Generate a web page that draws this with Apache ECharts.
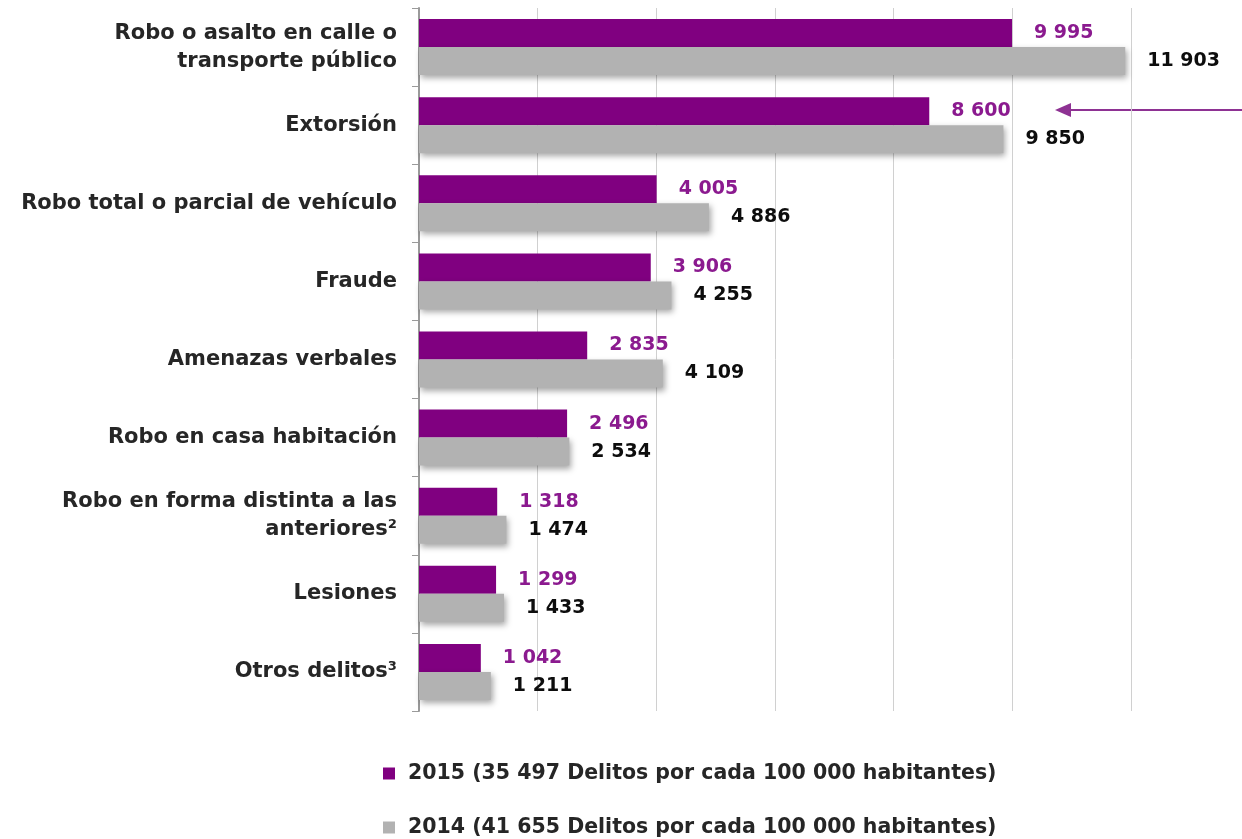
<!DOCTYPE html>
<html>
<head>
<meta charset="utf-8">
<script src="https://cdn.jsdelivr.net/npm/echarts@6/dist/echarts.min.js"></script>
<style>
  html, body { margin: 0; padding: 0; background: #fff; }
  #chart { width: 1242px; height: 839px; }
</style>
</head>
<body>
<div id="chart"></div>
<script>
// categorías (de arriba hacia abajo)
var categories = [
  'Robo o asalto en calle o\ntransporte público',
  'Extorsión',
  'Robo total o parcial de vehículo',
  'Fraude',
  'Amenazas verbales',
  'Robo en casa habitación',
  'Robo en forma distinta a las\nanteriores²',
  'Lesiones',
  'Otros delitos³'
];
// nombres de la leyenda
var seriesNames = [
  '2015 (35 497 Delitos por cada 100 000 habitantes)',
  '2014 (41 655 Delitos por cada 100 000 habitantes)'
];
// datos 2015 y 2014
var data2015 = [9995, 8600, 4005, 3906, 2835, 2496, 1318, 1299, 1042];
var data2014 = [11903, 9850, 4886, 4255, 4109, 2534, 1474, 1433, 1211];

// separador de miles con espacio
function fmt(v) {
  return String(v).replace(/\B(?=(\d{3})+(?!\d))/g, ' ');
}

var myChart = echarts.init(document.getElementById('chart'));
var font = '"DejaVu Sans", sans-serif';
var legendText = {
  color: '#262626',
  fontSize: 20.5,
  fontWeight: 'bold',
  fontFamily: font,
  padding: [0, 0, 0, 8]
};
var option = {
  animation: false,
  textStyle: { fontFamily: font },
  // una leyenda por fila
  legend: [
    {
      left: 378,
      top: 758,
      itemWidth: 12,
      itemHeight: 12,
      icon: 'rect',
      textStyle: legendText,
      data: [seriesNames[0]]
    },
    {
      left: 378,
      top: 812,
      itemWidth: 12,
      itemHeight: 12,
      icon: 'rect',
      textStyle: legendText,
      data: [seriesNames[1]]
    }
  ],
  grid: {
    left: 419,
    right: 111,
    top: 8,
    bottom: 128
  },
  xAxis: {
    type: 'value',
    min: 0,
    max: 12000,
    interval: 2000,
    axisLabel: { show: false },
    axisTick: { show: false },
    axisLine: { show: false },
    splitLine: { lineStyle: { color: '#d0d0d0', width: 1 } }
  },
  yAxis: {
    type: 'category',
    inverse: true,
    data: categories,
    axisLine: { show: true, lineStyle: { color: '#9a9a9a', width: 2 } },
    axisTick: { show: true, length: 7, lineStyle: { color: '#9a9a9a', width: 1 } },
    axisLabel: {
      color: '#262626',
      fontSize: 21,
      fontWeight: 'bold',
      fontFamily: font,
      margin: 22,
      lineHeight: 28,
      align: 'right'
    }
  },
  series: [
    {
      name: seriesNames[0],
      type: 'bar',
      data: data2015,
      barWidth: 28,
      barGap: '0%',
      itemStyle: { color: '#800080' },
      label: {
        show: true,
        position: 'right',
        distance: 22,
        color: '#8b1a8f',
        fontSize: 19,
        fontWeight: 'bold',
        fontFamily: font,
        formatter: function (p) { return fmt(p.value); }
      }
    },
    {
      name: seriesNames[1],
      type: 'bar',
      data: data2014,
      barWidth: 28,
      barGap: '0%',
      itemStyle: {
        color: '#b2b2b2',
        shadowColor: 'rgba(0,0,0,0.35)',
        shadowBlur: 6,
        shadowOffsetX: 2,
        shadowOffsetY: 3
      },
      label: {
        show: true,
        position: 'right',
        distance: 22,
        color: '#0d0d0d',
        fontSize: 19,
        fontWeight: 'bold',
        fontFamily: font,
        formatter: function (p) { return fmt(p.value); }
      }
    }
  ],
  // flecha señalando Extorsión
  graphic: [
    {
      type: 'line',
      shape: { x1: 1242, y1: 110, x2: 1066, y2: 110 },
      style: { stroke: '#8e3293', lineWidth: 2 }
    },
    {
      type: 'polygon',
      shape: { points: [[1055, 110], [1071, 103], [1071, 117]] },
      style: { fill: '#8e3293' }
    }
  ]
};
myChart.setOption(option);
window.addEventListener('resize', function () {
  myChart.resize();
});
</script>
</body>
</html>
